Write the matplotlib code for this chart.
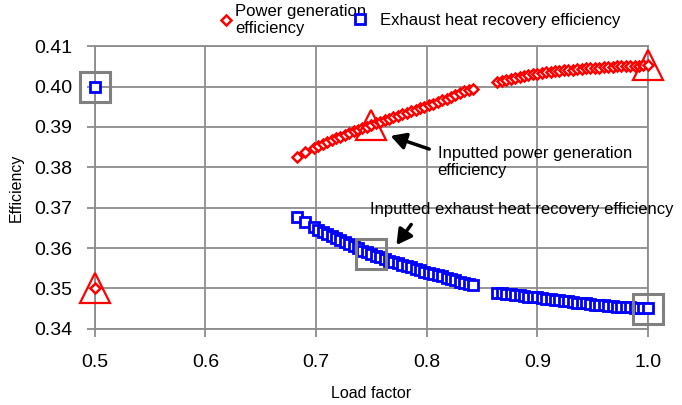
import matplotlib
matplotlib.use("Agg")
import matplotlib.pyplot as plt

plt.rcParams['font.family'] = ['Liberation Sans', 'DejaVu Sans']

# load factors (shared by both series)
load = [0.500, 0.683, 0.690,
        0.698, 0.702, 0.706, 0.710, 0.714, 0.718, 0.722, 0.726, 0.730, 0.734,
        0.738, 0.742, 0.746, 0.750, 0.754, 0.758, 0.762, 0.766, 0.770, 0.774,
        0.778, 0.782, 0.786, 0.790, 0.794, 0.798, 0.802, 0.806, 0.810, 0.814,
        0.818, 0.822, 0.826, 0.830, 0.834, 0.838, 0.842,
        0.864, 0.868, 0.872, 0.876, 0.880, 0.884, 0.888, 0.892, 0.896, 0.900,
        0.904, 0.908, 0.912, 0.916, 0.920, 0.924, 0.928, 0.932, 0.936, 0.940,
        0.944, 0.948, 0.952, 0.956, 0.960, 0.964, 0.968, 0.972, 0.976, 0.980,
        0.984, 0.988, 0.992, 0.996, 1.000]

power_eff = [0.3500, 0.3825, 0.3837,
             0.3848, 0.3853, 0.3858, 0.3863, 0.3867, 0.3872, 0.3876, 0.3881, 0.3885, 0.3889,
             0.3893, 0.3897, 0.3901, 0.3905, 0.3909, 0.3913, 0.3916, 0.3920, 0.3924, 0.3928,
             0.3931, 0.3935, 0.3939, 0.3942, 0.3946, 0.3950, 0.3954, 0.3958, 0.3962, 0.3966,
             0.3970, 0.3975, 0.3980, 0.3984, 0.3988, 0.3992, 0.3995,
             0.4011, 0.4014, 0.4016, 0.4019, 0.4021, 0.4024, 0.4026, 0.4028, 0.4030, 0.4032,
             0.4033, 0.4035, 0.4036, 0.4038, 0.4039, 0.4040, 0.4041, 0.4042, 0.4043, 0.4044,
             0.4045, 0.4046, 0.4046, 0.4047, 0.4048, 0.4048, 0.4049, 0.4050, 0.4050, 0.4051,
             0.4051, 0.4052, 0.4052, 0.4053, 0.4053]

heat_eff = [0.4000, 0.3677, 0.3665,
            0.3652, 0.3646, 0.3641, 0.3635, 0.3630, 0.3625, 0.3620, 0.3614, 0.3609, 0.3604,
            0.3599, 0.3594, 0.3590, 0.3585, 0.3581, 0.3577, 0.3573, 0.3569, 0.3566, 0.3562,
            0.3559, 0.3555, 0.3552, 0.3549, 0.3545, 0.3542, 0.3539, 0.3536, 0.3533, 0.3530,
            0.3527, 0.3524, 0.3520, 0.3517, 0.3514, 0.3511, 0.3508,
            0.3490, 0.3488, 0.3487, 0.3486, 0.3484, 0.3483, 0.3481, 0.3480, 0.3479, 0.3478,
            0.3476, 0.3475, 0.3474, 0.3472, 0.3471, 0.3469, 0.3468, 0.3467, 0.3465, 0.3464,
            0.3463, 0.3461, 0.3460, 0.3459, 0.3458, 0.3457, 0.3456, 0.3455, 0.3455, 0.3454,
            0.3453, 0.3452, 0.3452, 0.3451, 0.3451]

# inputted (given) points
input_load = [0.5, 0.75, 1.0]
input_power = [0.350, 0.3905, 0.4053]
input_heat = [0.400, 0.3585, 0.345]

grid_c = '#8c8c8c'

fig = plt.figure(figsize=(6.82, 4.05), dpi=100)
ax = fig.add_axes([0.139, 0.188, 0.811, 0.698])

pw, = ax.plot(load, power_eff, ls='none', marker='D', ms=5, mfc='white', mec='#ff0000',
              mew=1.8, zorder=3, clip_on=False)
ht, = ax.plot(load, heat_eff, ls='none', marker='s', ms=7, mfc='white', mec='#0000ff',
              mew=2.0, zorder=3, clip_on=False)

ax.plot(input_load, input_power, ls='none', marker='^', ms=21, mfc='none',
        mec='#ff0000', mew=1.6, zorder=4, clip_on=False)
ax.plot(input_load, input_heat, ls='none', marker='s', ms=21, mfc='none',
        mec='#808080', mew=2.2, zorder=4, clip_on=False)

ax.set_xlim(0.5, 1.0)
ax.set_ylim(0.34, 0.41)
ax.set_xticks([0.5, 0.6, 0.7, 0.8, 0.9, 1.0])
ax.set_xticklabels(['0.5', '0.6', '0.7', '0.8', '0.9', '1.0'])
ax.set_yticks([0.34, 0.35, 0.36, 0.37, 0.38, 0.39, 0.40, 0.41])
ax.set_yticklabels(['0.34', '0.35', '0.36', '0.37', '0.38', '0.39', '0.40', '0.41'])
ax.tick_params(labelsize=14, color=grid_c, width=1.3, length=6)
ax.tick_params(axis='x', pad=12)
ax.tick_params(axis='y', pad=10)
ax.grid(True, color=grid_c, lw=1.3)
ax.set_axisbelow(True)
for s in ax.spines.values():
    s.set_color(grid_c)
    s.set_linewidth(1.3)

ax.set_xlabel('Load factor', fontsize=11.5, labelpad=11)
ax.set_ylabel('Efficiency', fontsize=11.5, labelpad=8)

arrow = dict(arrowstyle='-|>,head_length=0.9,head_width=0.5', color='black', lw=2.5)
ax.annotate('', xy=(0.765, 0.3880), xytext=(0.8047, 0.3843), arrowprops=arrow)
ax.text(0.810, 0.3813, 'Inputted power generation\nefficiency', fontsize=12,
        ha='left', va='center')
ax.annotate('', xy=(0.7712, 0.3602), xytext=(0.7875, 0.3664), arrowprops=arrow)
ax.text(0.7486, 0.3696, 'Inputted exhaust heat recovery efficiency', fontsize=12,
        ha='left', va='center')

# two single-entry legends so the gaps match the original
leg1 = fig.legend([pw], ['Power generation\nefficiency'], loc='center left',
                  bbox_to_anchor=(220 / 682, 1 - 20 / 405), frameon=False, fontsize=12,
                  handlelength=0.7, handletextpad=0.2, borderpad=0, borderaxespad=0)
fig.legend([ht], ['Exhaust heat recovery efficiency'], loc='center left',
           bbox_to_anchor=(354 / 682, 1 - 20 / 405), frameon=False, fontsize=12,
           handlelength=0.7, handletextpad=0.85, borderpad=0, borderaxespad=0)

fig.savefig('out.png', dpi=100)
